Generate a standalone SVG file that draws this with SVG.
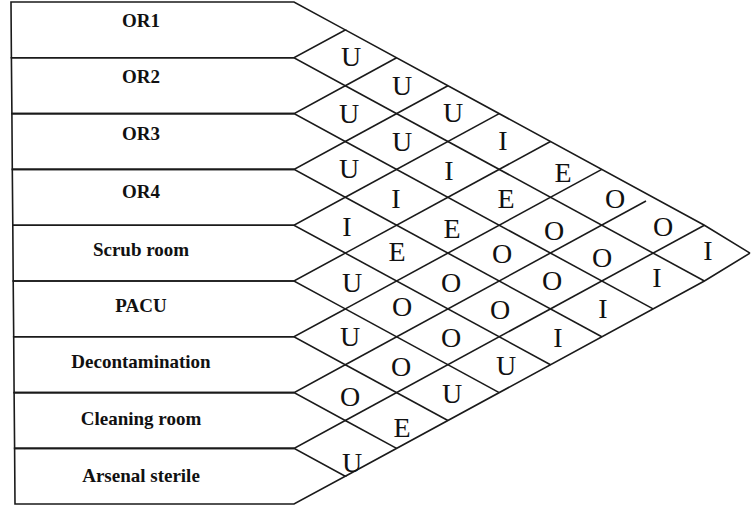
<svg xmlns="http://www.w3.org/2000/svg" width="751" height="506" viewBox="0 0 751 506">
<style>
.row{fill:none;stroke:#1a1a1a;stroke-width:1.6;stroke-linejoin:miter}
.ln{fill:none;stroke:#1a1a1a;stroke-width:1.6}
.lab{font-family:"Liberation Serif","Times New Roman",serif;font-weight:bold;font-size:19px;fill:#111;text-anchor:middle}
.rel{font-family:"Liberation Serif","Times New Roman",serif;font-size:28px;fill:#111;text-anchor:middle}
</style>
<rect width="751" height="506" fill="#fff"/>
<g id="OR1"><polygon class="row" points="11,2 294,2 345.3,29.9 294,57.8 11.4,57.8"/><text class="lab" x="141" y="27">OR1</text></g>
<g id="OR2"><polygon class="row" points="11.4,57.8 294,57.8 345.3,85.7 294,113.6 11.9,113.6"/><text class="lab" x="141" y="83">OR2</text></g>
<g id="OR3"><polygon class="row" points="11.9,113.6 294,113.6 345.3,141.5 294,169.4 12.3,169.4"/><text class="lab" x="141" y="140">OR3</text></g>
<g id="OR4"><polygon class="row" points="12.3,169.4 294,169.4 345.3,197.3 294,225.2 12.8,225.2"/><text class="lab" x="141" y="198">OR4</text></g>
<g id="ScrubRoom"><polygon class="row" points="12.8,225.2 294,225.2 345.3,253.1 294,281 13.2,281"/><text class="lab" x="141" y="256">Scrub room</text></g>
<g id="PACU"><polygon class="row" points="13.2,281 294,281 345.3,308.9 294,336.8 13.7,336.8"/><text class="lab" x="141" y="312">PACU</text></g>
<g id="Decontamination"><polygon class="row" points="13.7,336.8 294,336.8 345.3,364.7 294,392.6 14.1,392.6"/><text class="lab" x="141" y="368">Decontamination</text></g>
<g id="CleaningRoom"><polygon class="row" points="14.1,392.6 294,392.6 345.3,420.5 294,448.4 14.6,448.4"/><text class="lab" x="141" y="425">Cleaning room</text></g>
<g id="ArsenalSterile"><polygon class="row" points="14.6,448.4 294,448.4 345.3,476.3 294,504 15,504"/><text class="lab" x="141" y="482">Arsenal sterile</text></g>
<g id="connectors">
<polyline class="ln" points="345.3,29.9 704.4,225.2 750,253.1"/>
<polyline class="ln" points="345.3,85.7 704.4,281"/>
<polyline class="ln" points="345.3,141.5 653.1,308.9"/>
<polyline class="ln" points="345.3,197.3 601.8,336.8"/>
<polyline class="ln" points="345.3,253.1 550.5,364.7"/>
<polyline class="ln" points="345.3,308.9 499.2,392.6"/>
<polyline class="ln" points="345.3,364.7 447.9,420.5"/>
<polyline class="ln" points="345.3,420.5 396.6,448.4"/>
<polyline class="ln" points="345.3,85.7 396.6,57.8"/>
<polyline class="ln" points="345.3,141.5 447.9,85.7"/>
<polyline class="ln" points="345.3,197.3 499.2,113.6"/>
<polyline class="ln" points="345.3,253.1 550.5,141.5"/>
<polyline class="ln" points="345.3,308.9 601.8,169.4"/>
<polyline class="ln" points="345.3,364.7 646,201"/>
<polyline class="ln" points="345.3,420.5 704.4,225.2"/>
<polyline class="ln" points="345.3,476.3 704.4,281 750,253.1"/>
</g>
<g id="relationships">
<text class="rel" x="351" y="65.5">U</text>
<text class="rel" x="349" y="122.5">U</text>
<text class="rel" x="349" y="177.5">U</text>
<text class="rel" x="347" y="235.5">I</text>
<text class="rel" x="352" y="291.5">U</text>
<text class="rel" x="350" y="345.5">U</text>
<text class="rel" x="350" y="405.5">O</text>
<text class="rel" x="352" y="471.5">U</text>
<text class="rel" x="402" y="94.5">U</text>
<text class="rel" x="402" y="150.5">U</text>
<text class="rel" x="396" y="207.5">I</text>
<text class="rel" x="397" y="261">E</text>
<text class="rel" x="402" y="316">O</text>
<text class="rel" x="401" y="375.5">O</text>
<text class="rel" x="402" y="436.5">E</text>
<text class="rel" x="453" y="121.5">U</text>
<text class="rel" x="449" y="179.5">I</text>
<text class="rel" x="452" y="237.5">E</text>
<text class="rel" x="451" y="291.5">O</text>
<text class="rel" x="451" y="346.5">O</text>
<text class="rel" x="452" y="402.5">U</text>
<text class="rel" x="503" y="149.5">I</text>
<text class="rel" x="506" y="207.5">E</text>
<text class="rel" x="502" y="262.5">O</text>
<text class="rel" x="500" y="318.5">O</text>
<text class="rel" x="506" y="374.5">U</text>
<text class="rel" x="563" y="181.5">E</text>
<text class="rel" x="554" y="239.5">O</text>
<text class="rel" x="552" y="289.5">O</text>
<text class="rel" x="558" y="346.5">I</text>
<text class="rel" x="615" y="207.5">O</text>
<text class="rel" x="602" y="266.5">O</text>
<text class="rel" x="603" y="317.5">I</text>
<text class="rel" x="663" y="235.5">O</text>
<text class="rel" x="657" y="286.5">I</text>
<text class="rel" x="708" y="259.5">I</text>
</g>
</svg>
